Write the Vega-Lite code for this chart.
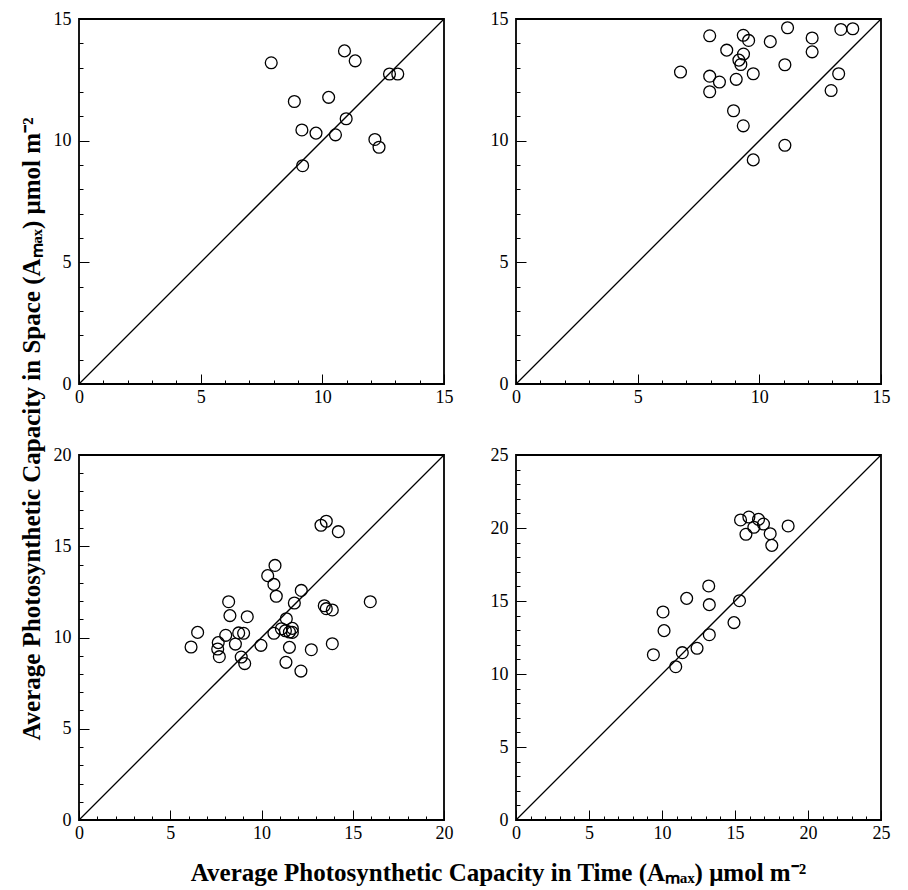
{
  "$schema": "https://vega.github.io/schema/vega-lite/v6.json",
  "background": "white",
  "padding": {"left": 20, "top": 9, "right": 5, "bottom": 0},
  "config": {
    "view": {"stroke": "black", "strokeWidth": 1.8},
    "axis": {"domain": false, "grid": false, "tickColor": "black", "tickWidth": 1, "labelColor": "black", "labelFont": "Liberation Serif", "labelFontSize": 18, "title": null,
      "labelOverlap": false, "labelFlush": false,
      "tickSize": {"condition": {"test": "datum.value % 5 === 0", "value": -10}, "value": -4},
      "labelExpr": "datum.value % 5 === 0 ? datum.label : ''"},
    "axisX": {"labelPadding": 14},
    "axisY": {"labelPadding": 18},
    "title": {"font": "Liberation Serif", "fontWeight": "bold", "fontSize": 25, "color": "black"}
  },
  "title": {"text": "Average Photosynthetic Capacity in Time (Aₘₐₓ) μmol m⁻²", "orient": "bottom", "anchor": "middle", "offset": 12, "dx": 43},
  "vconcat": [
    {
      "title": {"text": "Average Photosynthetic Capacity in Space (Aₘₐₓ) μmol m⁻²", "orient": "left", "anchor": "middle", "offset": 7},
      "columns": 2,
      "spacing": {"column": 72, "row": 71},
      "bounds": "flush",
      "concat": [
        {
          "width": 365, "height": 365,
          "encoding": {
            "x": {"field": "x", "type": "quantitative", "scale": {"domain": [0, 15], "nice": false}, "axis": {"values": [0,1,2,3,4,5,6,7,8,9,10,11,12,13,14,15], "labelOverlap": false}},
            "y": {"field": "y", "type": "quantitative", "scale": {"domain": [0, 15], "nice": false}, "axis": {"values": [0,1,2,3,4,5,6,7,8,9,10,11,12,13,14,15], "labelOverlap": false}}
          },
          "layer": [
            {
              "data": {"values": [{"x": 0, "y": 0}, {"x": 15, "y": 15}]},
              "mark": {"type": "line", "color": "black", "strokeWidth": 1.3}
            },
            {
              "data": {"values": [
                {"x": 7.90, "y": 13.20}, {"x": 10.91, "y": 13.69}, {"x": 11.35, "y": 13.28}, {"x": 12.76, "y": 12.74},
                {"x": 13.10, "y": 12.74}, {"x": 8.85, "y": 11.61}, {"x": 10.26, "y": 11.78}, {"x": 10.98, "y": 10.90},
                {"x": 9.16, "y": 10.44}, {"x": 9.74, "y": 10.31}, {"x": 10.54, "y": 10.24}, {"x": 12.16, "y": 10.05},
                {"x": 12.33, "y": 9.73}, {"x": 9.19, "y": 8.97}
              ]},
              "mark": {"type": "point", "shape": "circle", "filled": false, "color": "black", "strokeWidth": 1.3, "size": 140, "opacity": 1}
            },
            {
              "mark": {"type": "text", "text": "a", "font": "Liberation Serif", "fontWeight": "bold", "fontSize": 24, "align": "left", "baseline": "middle", "color": "black"},
              "encoding": {"x": {"datum": 0.5}, "y": {"datum": 14.3}}
            }
          ]
        },
        {
          "width": 365, "height": 365,
          "encoding": {
            "x": {"field": "x", "type": "quantitative", "scale": {"domain": [0, 15], "nice": false}, "axis": {"values": [0,1,2,3,4,5,6,7,8,9,10,11,12,13,14,15], "labelOverlap": false}},
            "y": {"field": "y", "type": "quantitative", "scale": {"domain": [0, 15], "nice": false}, "axis": {"values": [0,1,2,3,4,5,6,7,8,9,10,11,12,13,14,15], "labelOverlap": false}}
          },
          "layer": [
            {
              "data": {"values": [{"x": 0, "y": 0}, {"x": 15, "y": 15}]},
              "mark": {"type": "line", "color": "black", "strokeWidth": 1.3}
            },
            {
              "data": {"values": [
                {"x": 7.96, "y": 14.31}, {"x": 9.34, "y": 14.33}, {"x": 9.56, "y": 14.12}, {"x": 11.16, "y": 14.64},
                {"x": 13.35, "y": 14.57}, {"x": 13.84, "y": 14.60}, {"x": 12.17, "y": 14.22}, {"x": 10.45, "y": 14.07},
                {"x": 8.66, "y": 13.72}, {"x": 9.35, "y": 13.56}, {"x": 9.16, "y": 13.31}, {"x": 9.24, "y": 13.13},
                {"x": 12.17, "y": 13.65}, {"x": 11.05, "y": 13.12}, {"x": 6.76, "y": 12.82}, {"x": 7.96, "y": 12.65},
                {"x": 8.36, "y": 12.41}, {"x": 9.05, "y": 12.52}, {"x": 9.75, "y": 12.75}, {"x": 7.96, "y": 12.01},
                {"x": 13.26, "y": 12.75}, {"x": 12.95, "y": 12.06}, {"x": 8.94, "y": 11.23}, {"x": 9.34, "y": 10.61},
                {"x": 11.05, "y": 9.81}, {"x": 9.75, "y": 9.21}
              ]},
              "mark": {"type": "point", "shape": "circle", "filled": false, "color": "black", "strokeWidth": 1.3, "size": 140, "opacity": 1}
            },
            {
              "mark": {"type": "text", "text": "b", "font": "Liberation Serif", "fontWeight": "bold", "fontSize": 24, "align": "left", "baseline": "middle", "color": "black"},
              "encoding": {"x": {"datum": 0.6}, "y": {"datum": 14.3}}
            }
          ]
        },
        {
          "width": 365, "height": 365,
          "encoding": {
            "x": {"field": "x", "type": "quantitative", "scale": {"domain": [0, 20], "nice": false}, "axis": {"values": [0,1,2,3,4,5,6,7,8,9,10,11,12,13,14,15,16,17,18,19,20], "labelOverlap": false}},
            "y": {"field": "y", "type": "quantitative", "scale": {"domain": [0, 20], "nice": false}, "axis": {"values": [0,1,2,3,4,5,6,7,8,9,10,11,12,13,14,15,16,17,18,19,20], "labelOverlap": false}}
          },
          "layer": [
            {
              "data": {"values": [{"x": 0, "y": 0}, {"x": 20, "y": 20}]},
              "mark": {"type": "line", "color": "black", "strokeWidth": 1.3}
            },
            {
              "data": {"values": [
                {"x": 13.26, "y": 16.15}, {"x": 13.55, "y": 16.37}, {"x": 14.21, "y": 15.80}, {"x": 10.74, "y": 13.95},
                {"x": 10.34, "y": 13.39}, {"x": 10.68, "y": 12.91}, {"x": 10.81, "y": 12.26}, {"x": 12.18, "y": 12.58},
                {"x": 11.80, "y": 11.89}, {"x": 8.20, "y": 11.96}, {"x": 15.96, "y": 11.96}, {"x": 13.44, "y": 11.74},
                {"x": 13.55, "y": 11.58}, {"x": 13.88, "y": 11.51}, {"x": 8.27, "y": 11.20}, {"x": 9.22, "y": 11.14},
                {"x": 11.36, "y": 11.03}, {"x": 6.50, "y": 10.28}, {"x": 8.04, "y": 10.12}, {"x": 8.75, "y": 10.25},
                {"x": 9.02, "y": 10.23}, {"x": 10.68, "y": 10.23}, {"x": 11.09, "y": 10.48}, {"x": 11.31, "y": 10.37},
                {"x": 11.53, "y": 10.30}, {"x": 11.69, "y": 10.50}, {"x": 11.69, "y": 10.28}, {"x": 6.14, "y": 9.48},
                {"x": 7.63, "y": 9.72}, {"x": 7.60, "y": 9.37}, {"x": 7.69, "y": 8.95}, {"x": 8.57, "y": 9.64},
                {"x": 9.97, "y": 9.57}, {"x": 8.89, "y": 8.93}, {"x": 9.08, "y": 8.57}, {"x": 11.53, "y": 9.46},
                {"x": 12.73, "y": 9.33}, {"x": 13.88, "y": 9.66}, {"x": 11.34, "y": 8.64}, {"x": 12.16, "y": 8.16}
              ]},
              "mark": {"type": "point", "shape": "circle", "filled": false, "color": "black", "strokeWidth": 1.3, "size": 140, "opacity": 1}
            },
            {
              "mark": {"type": "text", "text": "c", "font": "Liberation Serif", "fontWeight": "bold", "fontSize": 24, "align": "left", "baseline": "middle", "color": "black"},
              "encoding": {"x": {"datum": 0.64}, "y": {"datum": 18.9}}
            }
          ]
        },
        {
          "width": 365, "height": 365,
          "encoding": {
            "x": {"field": "x", "type": "quantitative", "scale": {"domain": [0, 25], "nice": false}, "axis": {"values": [0,1,2,3,4,5,6,7,8,9,10,11,12,13,14,15,16,17,18,19,20,21,22,23,24,25], "labelOverlap": false}},
            "y": {"field": "y", "type": "quantitative", "scale": {"domain": [0, 25], "nice": false}, "axis": {"values": [0,1,2,3,4,5,6,7,8,9,10,11,12,13,14,15,16,17,18,19,20,21,22,23,24,25], "labelOverlap": false}}
          },
          "layer": [
            {
              "data": {"values": [{"x": 0, "y": 0}, {"x": 25, "y": 25}]},
              "mark": {"type": "line", "color": "black", "strokeWidth": 1.3}
            },
            {
              "data": {"values": [
                {"x": 15.38, "y": 20.55}, {"x": 15.95, "y": 20.75}, {"x": 16.61, "y": 20.59}, {"x": 16.29, "y": 20.05},
                {"x": 16.95, "y": 20.27}, {"x": 15.75, "y": 19.57}, {"x": 17.41, "y": 19.61}, {"x": 17.52, "y": 18.81},
                {"x": 18.64, "y": 20.14}, {"x": 13.20, "y": 16.03}, {"x": 11.69, "y": 15.18}, {"x": 13.24, "y": 14.75},
                {"x": 15.31, "y": 15.02}, {"x": 10.07, "y": 14.25}, {"x": 10.14, "y": 12.97}, {"x": 14.93, "y": 13.52},
                {"x": 13.24, "y": 12.69}, {"x": 12.40, "y": 11.76}, {"x": 11.39, "y": 11.46}, {"x": 9.41, "y": 11.32},
                {"x": 10.94, "y": 10.50}
              ]},
              "mark": {"type": "point", "shape": "circle", "filled": false, "color": "black", "strokeWidth": 1.3, "size": 140, "opacity": 1}
            },
            {
              "mark": {"type": "text", "text": "d", "font": "Liberation Serif", "fontWeight": "bold", "fontSize": 24, "align": "left", "baseline": "middle", "color": "black"},
              "encoding": {"x": {"datum": 0.91}, "y": {"datum": 23.6}}
            }
          ]
        }
      ]
    }
  ]
}
